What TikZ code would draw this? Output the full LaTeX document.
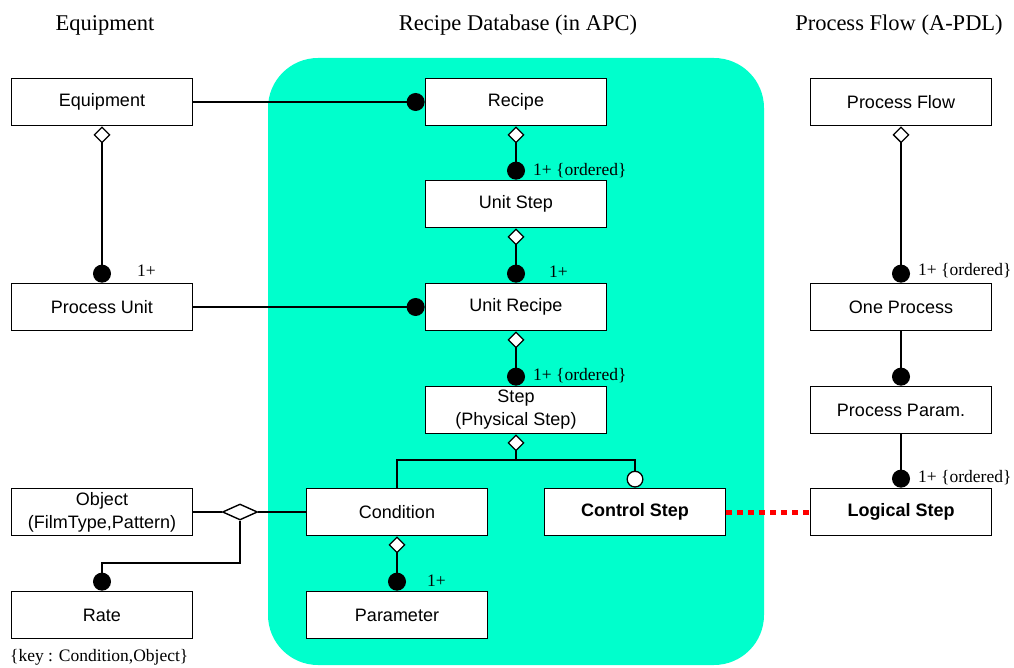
\documentclass[tikz,border=0pt]{standalone}
\usepackage{fontspec}
\setmainfont{Liberation Serif}
\newfontfamily\boxfont{Liberation Sans}
\usetikzlibrary{arrows.meta,shapes.geometric}
\definecolor{dbcyan}{RGB}{0,255,204}
\definecolor{linkred}{RGB}{255,0,0}
\begin{document}
\begin{tikzpicture}[x=1pt,y=-1pt,
  cls/.style={draw=black,line width=1.7pt,fill=white,minimum width=181pt,minimum height=47pt,
    inner sep=0pt,align=center,font=\boxfont\fontsize{18}{23}\selectfont},
  title/.style={font=\fontsize{22.5}{26}\selectfont},
  mult/.style={font=\fontsize{17.5}{20}\selectfont,anchor=west,inner sep=0pt},
  link/.style={line width=1.7pt},
  agg/.style={{Diamond[fill=white,length=17pt,width=17pt,line width=1.3pt]}-},
  one/.style={-{Circle[length=18pt]}},
  agg one/.style={{Diamond[fill=white,length=17pt,width=17pt,line width=1.3pt]}-{Circle[length=18pt]}},
  opt/.style={-{Circle[fill=white,length=17pt,line width=1.3pt]}}
]
\useasboundingbox (0,0) rectangle (1014,668);

% database region
\fill[dbcyan,rounded corners=50pt] (268,58) rectangle (764,665);

% column headings
\node[title] (h1) at (105,25) {Equipment};
\node[title] (h2) at (518,25) {Recipe Database (in APC)};
\node[title] (h3) at (899,25) {Process Flow (A-PDL)};

% classes
\node[cls] (equip) at (102,102) {Equipment};
\node[cls] (recipe) at (516,102) {Recipe};
\node[cls] (pflow) at (901,102) {Process Flow};
\node[cls] (ustep) at (516,204) {Unit Step};
\node[cls] (punit) at (102,307) {Process Unit};
\node[cls] (urecipe) at (516,307) {Unit Recipe};
\node[cls] (oneproc) at (901,307) {One Process};
\node[cls] (step) at (516,410) {Step\\(Physical Step)};
\node[cls] (pparam) at (901,410) {Process Param.};
\node[cls] (obj) at (102,512) {Object\\(FilmType,Pattern)};
\node[cls] (cond) at (397,512) {Condition};
\node[cls,font=\boxfont\bfseries\fontsize{18}{23}\selectfont] (ctrl) at (635,512) {Control Step};
\node[cls,font=\boxfont\bfseries\fontsize{18}{23}\selectfont] (lstep) at (901,512) {Logical Step};
\node[cls] (rate) at (102,615) {Rate};
\node[cls] (param) at (397,615) {Parameter};

% associations
\draw[link,one] (equip.east) -- (recipe.west);
\draw[link,one] (punit.east) -- (urecipe.west);
\draw[link,agg one] (equip.south) -- (punit.north);
\draw[link,agg one] (recipe.south) -- (ustep.north);
\draw[link,agg one] (ustep.south) -- (urecipe.north);
\draw[link,agg one] (urecipe.south) -- (step.north);
\draw[link,agg one] (cond.south) -- (param.north);
\draw[link,agg one] (pflow.south) -- (oneproc.north);
\draw[link,one] (oneproc.south) -- (pparam.north);
\draw[link,one] (pparam.south) -- (lstep.north);

% step decomposition
\coordinate (bar) at (516,460);
\draw[link,agg] (step.south) -- (bar) -| (cond.north);
\draw[link,opt] (bar) -| (ctrl.north);

% keyed aggregation of object and condition
\node[draw=black,line width=1.4pt,fill=white,shape=diamond,aspect=2.2,inner sep=0pt,
  minimum width=35pt,minimum height=16pt] (key) at (240,512) {};
\coordinate (keyjoin) at (240,563);
\draw[link] (obj.east) -- (key.west);
\draw[link] (key.east) -- (cond.west);
\draw[link,one] (key.south) -- (keyjoin) -| (rate.north);

% correspondence between control and logical steps
\draw[linkred,line width=5pt,dash pattern=on 6pt off 5pt] (ctrl.east) -- (lstep.west);

% multiplicities
\node[mult] (m1) at (137,271) {1+};
\node[mult] (m2) at (533,171) {1+ \{ordered\}};
\node[mult] (m3) at (549,272) {1+};
\node[mult] (m4) at (533,376) {1+ \{ordered\}};
\node[mult] (m5) at (427,581) {1+};
\node[mult] (m6) at (918,271) {1+ \{ordered\}};
\node[mult] (m7) at (918,478) {1+ \{ordered\}};
\node[mult] (keynote) at (10,657) {\{key : Condition,Object\}};
\end{tikzpicture}
\end{document}
